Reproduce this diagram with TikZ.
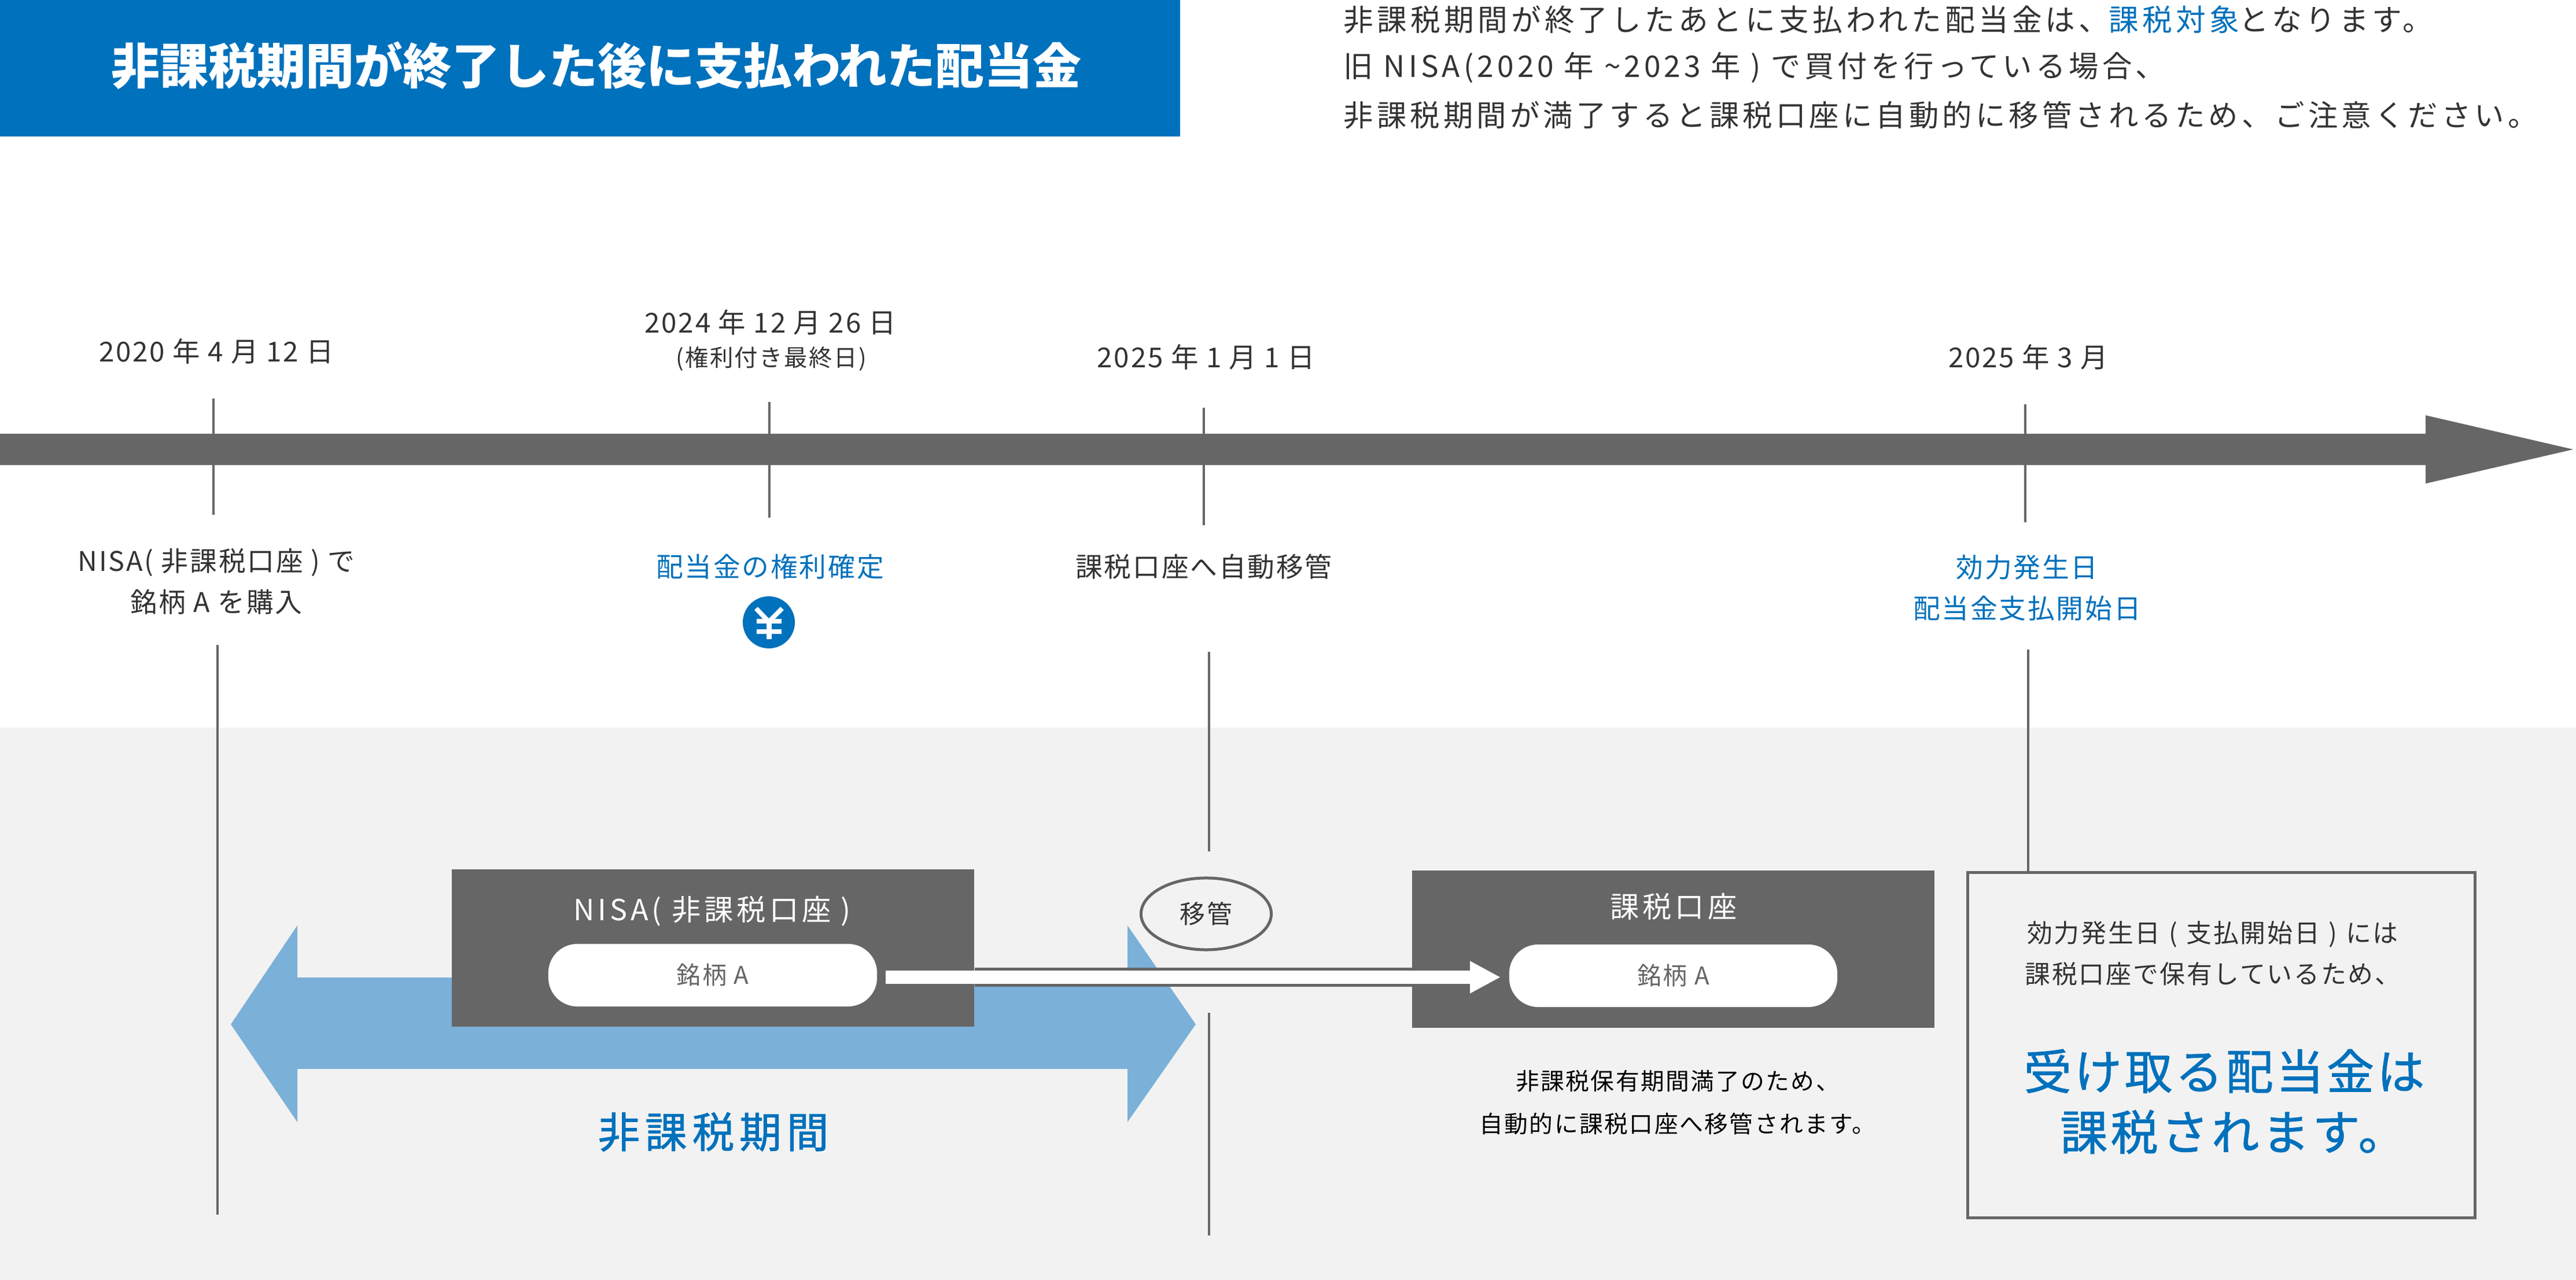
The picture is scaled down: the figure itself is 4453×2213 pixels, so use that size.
\documentclass[tikz,border=0pt]{standalone}
\usepackage{fontspec}
\usetikzlibrary{arrows.meta,shapes.geometric}
\setmainfont{Noto Sans CJK JP}
\newfontfamily\jpa[LetterSpace=6]{Noto Sans CJK JP}
\newfontfamily\jpb[LetterSpace=12]{Noto Sans CJK JP}
\newfontfamily\jpm[LetterSpace=6,FakeBold=1.2]{Noto Sans CJK JP}
\newfontfamily\jpn[LetterSpace=12,FakeBold=1.2]{Noto Sans CJK JP}
\newfontfamily\jpt{Noto Sans CJK JP}
\definecolor{barblue}{HTML}{0071BC}
\definecolor{softblue}{HTML}{7BB0D8}
\definecolor{darkgray}{HTML}{666666}
\definecolor{panelgray}{HTML}{F2F2F2}
\definecolor{inktext}{HTML}{333333}
\tikzset{
    datelabel/.style={font=\jpa\fontsize{13.5}{20.2}\selectfont, text=inktext, align=center, inner sep=0pt},
    eventlabel/.style={datelabel, font=\jpa\fontsize{13.3}{20.2}\selectfont},
    bluelabel/.style={eventlabel, text=barblue},
    tick/.style={draw=darkgray, line width=0.04cm},
    account/.style={rectangle, fill=darkgray, inner sep=0pt},
    pill/.style={rectangle, fill=white, rounded corners=0.5cm, inner sep=0pt, font=\jpa\fontsize{12}{14}\selectfont, text=darkgray},
    boxhead/.style={font=\jpb\fontsize{14.3}{16}\selectfont, text=white, inner sep=0pt}
}
\begin{document}
\begin{tikzpicture}[x=0.01cm,y=-0.01cm]
    \useasboundingbox (0,0) rectangle (4453,2213);
    \fill[panelgray] (0,1258) rectangle (4453,2213);
    \node[fill=barblue, minimum width=20.39cm, minimum height=2.36cm, inner sep=0pt] (titlebar) at (1019.5,118) {};
    \node[font=\jpt\bfseries\fontsize{23.9}{26}\selectfont, text=white, inner sep=0pt] (title) at (1031,113) {非課税期間が終了した後に支払われた配当金};
    \node[anchor=west, font=\jpb\fontsize{14.7}{14.7}\selectfont, text=inktext, inner sep=0pt] (introa) at (2322,34) {非課税期間が終了したあとに支払われた配当金は、\textcolor{barblue}{課税対象}となります。};
    \node[anchor=west, font=\jpb\fontsize{14.6}{14.6}\selectfont, text=inktext, inner sep=0pt] (introb) at (2322,117) {旧 NISA(2020 年 \textasciitilde2023 年 ) で買付を行っている場合、};
    \node[anchor=west, font=\jpb\fontsize{14.6}{14.6}\selectfont, text=inktext, inner sep=0pt] (introc) at (2322,199) {非課税期間が満了すると課税口座に自動的に移管されるため、ご注意ください。};
    \draw[tick] (369,689) -- (369,890);
    \draw[tick] (1330,695) -- (1330,895);
    \draw[tick] (2081,705) -- (2081,908);
    \draw[tick] (3501,699) -- (3501,903);
    \fill[darkgray] (0,750) -- (4193,750) -- (4193,718) -- (4448,777) -- (4193,836) -- (4193,804) -- (0,804) -- cycle;
    \node[datelabel] (datea) at (374,607) {2020 年 4 月 12 日};
    \node[datelabel] (dateb) at (1332,557) {2024 年 12 月 26 日};
    \node[datelabel, font=\jpa\fontsize{11.5}{13}\selectfont] (datebnote) at (1333,620) {(権利付き最終日)};
    \node[datelabel] (datec) at (2085,617) {2025 年 1 月 1 日};
    \node[datelabel] (dated) at (3506,617) {2025 年 3 月};
    \node[eventlabel] (eventa) at (374,1005) {NISA( 非課税口座 ) で\\銘柄 A を購入};
    \node[bluelabel] (eventb) at (1331,980) {配当金の権利確定};
    \node[eventlabel] (eventc) at (2081,980) {課税口座へ自動移管};
    \node[bluelabel] (eventd) at (3504,1016) {効力発生日\\配当金支払開始日};
    \node[circle, fill=barblue, minimum size=0.9cm, inner sep=0pt] (yen) at (1329,1076) {};
    \draw[white, line width=0.08cm] (1307,1052) -- (1329,1075) -- (1352,1052);
    \draw[white, line width=0.09cm] (1329,1075) -- (1329,1105);
    \draw[white, line width=0.08cm] (1308,1074) -- (1351,1074);
    \draw[white, line width=0.08cm] (1308,1092) -- (1351,1092);
    \draw[tick] (376,1115) -- (376,2100);
    \draw[tick] (2090,1127) -- (2090,1472);
    \draw[tick] (2090,1751) -- (2090,2136);
    \draw[tick] (3506,1123) -- (3506,1506);
    \fill[softblue] (399,1771) -- (514,1600) -- (514,1690) -- (1949,1690) -- (1949,1600) -- (2067,1771) -- (1949,1940) -- (1949,1848) -- (514,1848) -- (514,1940) -- cycle;
    \node[account, minimum width=9.03cm, minimum height=2.72cm] (nisabox) at (1232.5,1639) {};
    \node[account, minimum width=9.02cm, minimum height=2.72cm] (taxbox) at (2892.5,1641) {};
    \node[boxhead] (nisahead) at (1231,1575) {NISA( 非課税口座 )};
    \node[boxhead] (taxhead) at (2893,1567) {課税口座};
    \node[pill, minimum width=5.68cm, minimum height=1.08cm] (stocka) at (1232,1686) {銘柄 A};
    \node[pill, minimum width=5.67cm, minimum height=1.08cm] (stockb) at (2892.5,1687) {銘柄 A};
    \draw[darkgray, line width=0.33cm] (nisabox.east |- 0,1689.5) -- (taxbox.west |- 0,1689.5);
    \draw[white, line width=0.23cm, -{Triangle[width=0.52cm,length=0.53cm]}, shorten <=0.14cm, shorten >=0.14cm] (stocka.east |- 0,1689.5) -- (stockb.west |- 0,1689.5);
    \node[ellipse, draw=darkgray, line width=0.05cm, fill=panelgray, minimum width=2.25cm, minimum height=1.24cm, inner sep=0pt, font=\jpa\fontsize{12.5}{14}\selectfont, text=inktext] (transfer) at (2085,1580) {移管};
    \node[font=\jpn\fontsize{20.7}{24}\selectfont, text=barblue, inner sep=0pt] (period) at (1233,1957) {非課税期間};
    \node[font=\jpa\fontsize{11.6}{21}\selectfont, text=black, align=center, inner sep=0pt] (taxnote) at (2900,1906) {非課税保有期間満了のため、\\自動的に課税口座へ移管されます。};
    \node[rectangle, draw=darkgray, line width=0.05cm, minimum width=8.76cm, minimum height=5.97cm, inner sep=0pt] (resultbox) at (3840,1807) {};
    \node[font=\jpa\fontsize{12.5}{20.2}\selectfont, text=inktext, align=center, inner sep=0pt] (resulttext) at (3825,1648) {効力発生日\kern0.06em{} (\kern0.06em{} 支払開始日\kern0.06em{} )\kern0.06em{} には\\課税口座で保有しているため、};
    \node[font=\jpm\fontsize{23.4}{30}\selectfont, text=barblue, inner sep=0pt] (resultbiga) at (3845,1852) {受け取る配当金は};
    \node[font=\jpm\fontsize{23.4}{30}\selectfont, text=barblue, inner sep=0pt] (resultbigb) at (3860,1957) {課税されます。};
\end{tikzpicture}
\end{document}
